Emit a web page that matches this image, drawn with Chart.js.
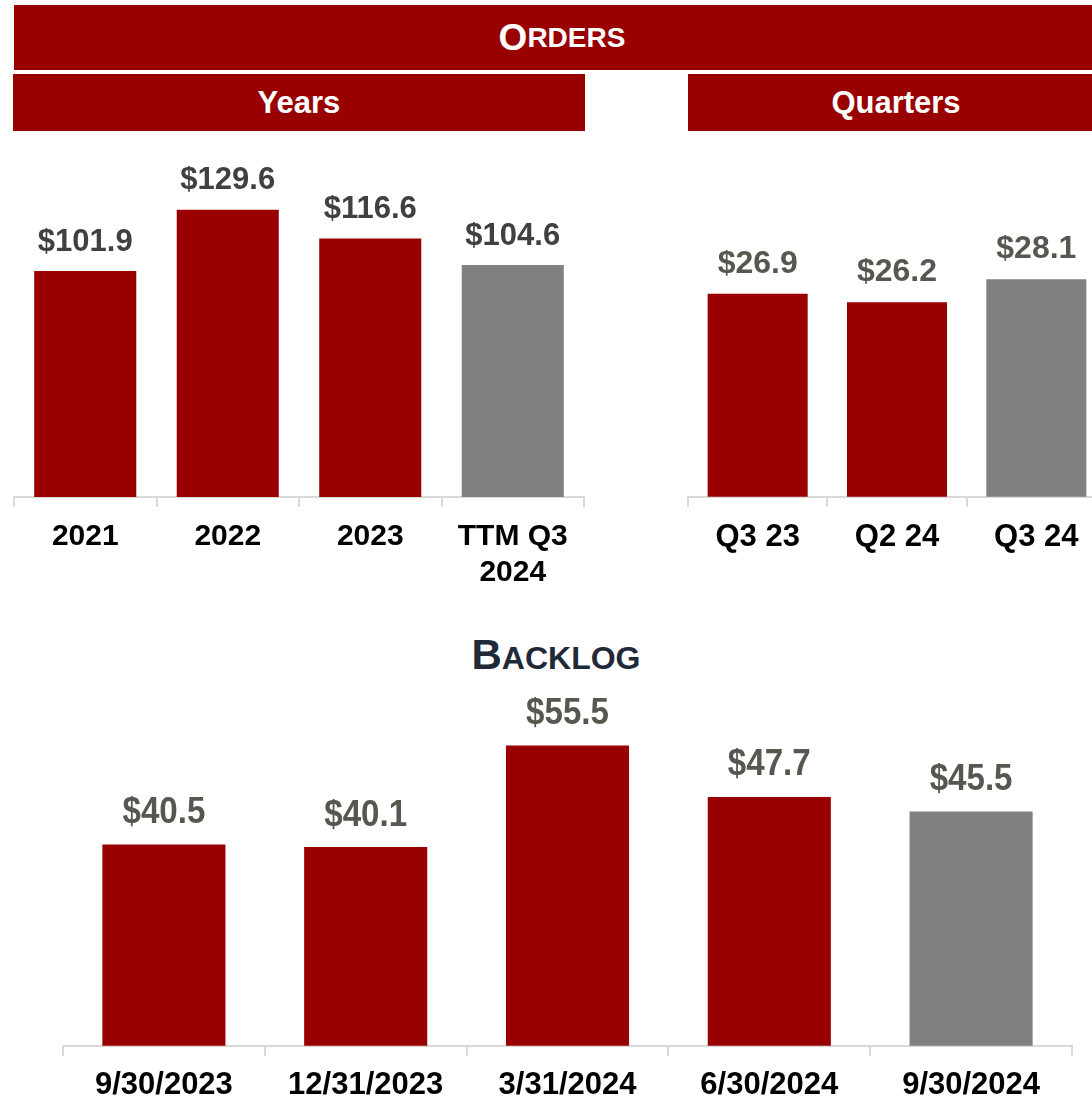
<!DOCTYPE html>
<html>
<head>
<meta charset="utf-8">
<script src="https://cdn.jsdelivr.net/npm/chart.js@4"></script>
<style>
  html, body { margin: 0; padding: 0; overflow: hidden; background: #fff; }
  body { width: 1092px; height: 1097px; position: relative; font-family: "Liberation Sans", Arial, sans-serif; }
  .head { position: absolute; background: #990000; color: #fff; font-weight: bold;
          display: flex; align-items: center; justify-content: center; }
  canvas { position: absolute; }
  #backlogTitle { position: absolute; left: 0; top: 634px; width: 1112px; text-align: center;
                  color: #1f2937; font-weight: bold; line-height: 42px; }
</style>
</head>
<body>
<div class="head" style="left:14px;top:5px;width:1096px;height:65px;"><span style="font-size:37px">O</span><span style="font-size:28px">RDERS</span></div>
<div class="head" style="left:13px;top:74px;width:572px;height:57px;font-size:31px;">Years</div>
<div class="head" style="left:688px;top:74px;width:416px;height:57px;font-size:31px;">Quarters</div>
<div id="backlogTitle"><span style="font-size:42px">B</span><span style="font-size:32px">ACKLOG</span></div>

<canvas id="yearsChart" width="600" height="465" style="left:0;top:140px"></canvas>
<canvas id="quartersChart" width="520" height="430" style="left:600px;top:140px"></canvas>
<canvas id="backlogChart" width="1092" height="427" style="left:0;top:690px"></canvas>

<script>
// data ($ millions)
const yearLabels = ['2021', '2022', '2023', ['TTM Q3', '2024']];
const yearOrders = [101.9, 129.6, 116.6, 104.6];

const quarterLabels = ['Q3 23', 'Q2 24', 'Q3 24'];
const quarterOrders = [26.9, 26.2, 28.1];

const backlogDates = ['9/30/2023', '12/31/2023', '3/31/2024', '6/30/2024', '9/30/2024'];
const backlogValues = [40.5, 40.1, 55.5, 47.7, 45.5];

const RED = '#990000';
const GREY = '#808080';
const FONT = '"Liberation Sans", Arial, sans-serif';

// last bar of each chart is the current period, shown in grey
function barColors(values) {
  return values.map((v, i) => i === values.length - 1 ? GREY : RED);
}

// "$xx.x" over each bar
const valueLabels = {
  id: 'valueLabels',
  afterDatasetsDraw(chart, args, opts) {
    const ctx = chart.ctx;
    const meta = chart.getDatasetMeta(0);
    const values = chart.data.datasets[0].data;
    ctx.save();
    ctx.font = opts.font;
    ctx.fillStyle = opts.color;
    ctx.textAlign = 'center';
    ctx.textBaseline = 'middle';
    meta.data.forEach((bar, i) => {
      ctx.save();
      ctx.translate(bar.x, bar.y - opts.offset);
      ctx.scale(opts.scaleX || 1, 1);
      ctx.fillText('$' + values[i].toFixed(1), 0, 0);
      ctx.restore();
    });
    ctx.restore();
  }
};

function makeBarChart(id, labels, values, o) {
  return new Chart(document.getElementById(id), {
    type: 'bar',
    data: {
      labels: labels,
      datasets: [{
        data: values,
        backgroundColor: barColors(values),
        barPercentage: o.barPct,
        categoryPercentage: 1
      }]
    },
    options: {
      responsive: false,
      animation: false,
      events: [],
      layout: { padding: o.padding },
      plugins: {
        legend: { display: false },
        tooltip: { enabled: false },
        valueLabels: o.valueLabels
      },
      scales: {
        x: {
          grid: { drawOnChartArea: false, drawTicks: true, tickLength: 10, color: '#d9d9d9', lineWidth: 2, offset: true },
          border: { display: true, color: '#d9d9d9', width: 2 },
          ticks: {
            color: '#000',
            font: { family: FONT, size: o.tickSize, weight: 'bold', lineHeight: 1.2 },
            padding: o.tickPad,
            maxRotation: 0,
            autoSkip: false
          }
        },
        y: { display: false, min: o.yMin, max: o.yMax }
      }
    },
    plugins: [valueLabels]
  });
}

makeBarChart('yearsChart', yearLabels, yearOrders, {
  barPct: 0.716,
  padding: { left: 14, right: 16, top: 0, bottom: 2 },
  tickSize: 30, tickPad: 12,
  yMin: 0, yMax: 161,
  valueLabels: { font: 'bold 31px ' + FONT, color: '#404040', offset: 29 }
});

makeBarChart('quartersChart', quarterLabels, quarterOrders, {
  barPct: 0.718,
  padding: { left: 88, right: 14, top: 0, bottom: 2 },
  tickSize: 31, tickPad: 12,
  yMin: 10, yMax: 39.7,
  valueLabels: { font: 'bold 32px ' + FONT, color: '#55584f', offset: 30 }
});

makeBarChart('backlogChart', backlogDates, backlogValues, {
  barPct: 0.61,
  padding: { left: 63, right: 20, top: 0, bottom: 2 },
  tickSize: 31, tickPad: 11,
  yMin: 10, yMax: 63.9,
  valueLabels: { font: 'bold 36px ' + FONT, color: '#55584f', offset: 31.5, scaleX: 0.92 }
});
</script>
</body>
</html>
